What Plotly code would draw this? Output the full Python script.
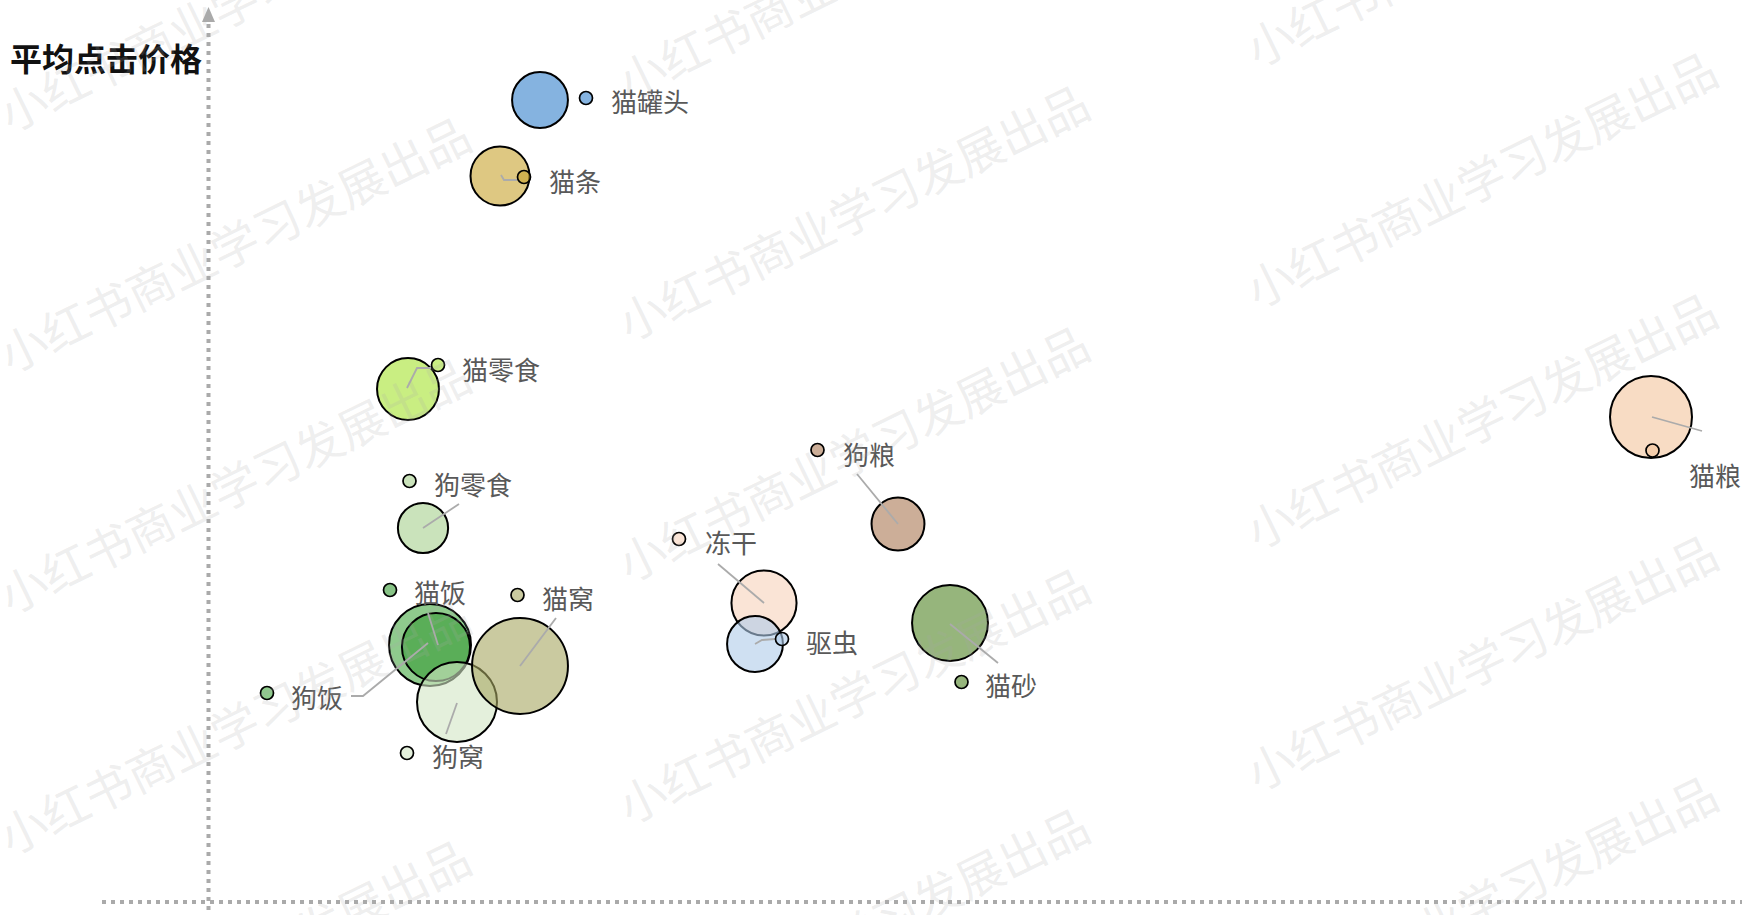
import plotly.graph_objects as go

# ---------------- data ----------------
categories = ["猫罐头", "猫条", "猫零食", "狗零食", "狗饭", "猫饭", "狗窝", "猫窝",
              "狗粮", "冻干", "驱虫", "猫砂", "猫粮"]
x_values = [3.32, 2.92, 2.00, 2.15, 2.22, 2.28, 2.49, 3.12, 6.90, 5.56, 5.47, 7.42, 14.43]
avg_click_price = [8.02, 7.26, 5.13, 3.74, 2.57, 2.55, 2.00, 2.36, 3.78, 2.99, 2.58, 2.79, 4.85]
bubble_values = [7.8, 8.7, 9.6, 6.3, 16.8, 11.6, 16.0, 23.0, 7.0, 10.6, 7.8, 14.4, 16.8]
y_title = "平均点击价格"
watermark_text = "小红书商业学习发展出品"

# ---------------- styles ----------------
ALPHA = 0.6
seen_colors = {  # apparent colour on white
    "猫罐头": (133, 179, 224), "猫条": (222, 200, 130), "猫零食": (201, 238, 130),
    "狗零食": (202, 227, 187), "狗饭": (143, 203, 141), "猫饭": (135, 195, 134),
    "狗窝": (228, 240, 220), "猫窝": (202, 202, 160), "狗粮": (204, 174, 152),
    "冻干": (250, 228, 214), "驱虫": (207, 224, 242), "猫砂": (150, 181, 124),
    "猫粮": (248, 220, 196),
}


def rgba(c):
    b = [max(0, min(255, round((v - (1 - ALPHA) * 255) / ALPHA))) for v in c]
    return f"rgba({b[0]},{b[1]},{b[2]},{ALPHA})"


colors = [rgba(seen_colors[c]) for c in categories]

# label layout: pixel offsets from bubble centre (dot, text, connector path)
label_layout = {
    "猫罐头": dict(dot=(46, -2), text=(69, 0), line=[]),
    "猫条": dict(dot=(24, 1), text=(47, 4), line=[(1, -1), (4, 4), (17, 4)]),
    "猫零食": dict(dot=(30, -24), text=(52, -21), line=[(-1, -1), (9, -21), (23, -21)]),
    "狗零食": dict(dot=(-13.5, -47), text=(9, -45), line=[(0, 0), (36, -24)]),
    "猫饭": dict(dot=(-46, -57), text=(-24, -56), line=[(2, -2), (-8, -34)]),
    "狗饭": dict(dot=(-163, 48), text=(-141, 51), line=[(-2, -2), (-67, 51), (-79, 51)]),
    "狗窝": dict(dot=(-50, 51), text=(-27, 53), line=[(0, 1), (-11, 32)]),
    "猫窝": dict(dot=(-2.5, -71), text=(20, -69), line=[(0, 0), (36, -48)]),
    "狗粮": dict(dot=(-80.5, -74), text=(-57.5, -70.5), line=[(0, 0), (-41, -50)]),
    "冻干": dict(dot=(-85, -64), text=(-61.5, -62), line=[(0, 0), (-46, -39)]),
    "驱虫": dict(dot=(27, -5), text=(49, -2.5), line=[(0, 0), (7, -4), (20, -5)]),
    "猫砂": dict(dot=(11.5, 59), text=(32.5, 61), line=[(0, 1), (48, 40)]),
    "猫粮": dict(dot=(1.5, 33.5), text=(36, 57.5), line=[(1, 0), (51, 14)]),
}

W, H = 1742, 915
X0, X1 = -2.08, 15.34
Y0, Y1 = -0.13, 9.02
PX = W / (X1 - X0)
PY = H / (Y1 - Y0)


def px_x(p):
    return X0 + p / PX


def px_y(q):
    return Y1 - q / PY


def shift(x, y, d):
    return x + d[0] / PX, y - d[1] / PY


FONT = "Noto Sans CJK SC, Noto Sans, sans-serif"

fig = go.Figure()

# bubbles
fig.add_trace(go.Scatter(
    x=x_values, y=avg_click_price, mode="markers",
    marker=dict(size=bubble_values, sizemode="area", sizeref=0.005, opacity=1,
                color=colors, line=dict(color="black", width=2)),
    text=categories, hoverinfo="text", showlegend=False,
))

# connectors
lx, ly = [], []
for c, x, y in zip(categories, x_values, avg_click_price):
    pts = label_layout[c]["line"]
    if not pts:
        continue
    for d in pts:
        sx, sy = shift(x, y, d)
        lx.append(sx)
        ly.append(sy)
    lx.append(None)
    ly.append(None)
fig.add_trace(go.Scatter(x=lx, y=ly, mode="lines",
                         line=dict(color="#ABABAB", width=1.8),
                         hoverinfo="skip", showlegend=False))

# label dots
dx, dy = [], []
for c, x, y in zip(categories, x_values, avg_click_price):
    sx, sy = shift(x, y, label_layout[c]["dot"])
    dx.append(sx)
    dy.append(sy)
fig.add_trace(go.Scatter(x=dx, y=dy, mode="markers",
                         marker=dict(size=13, color=colors, opacity=1,
                                     line=dict(color="black", width=1.7)),
                         hoverinfo="skip", showlegend=False))

annotations = []
for c, x, y in zip(categories, x_values, avg_click_price):
    tx, ty = shift(x, y, label_layout[c]["text"])
    annotations.append(dict(x=tx, y=ty, xref="x", yref="y", text=c,
                            showarrow=False, xanchor="left", yanchor="middle",
                            font=dict(family=FONT, size=26, color="#595959")))

# y axis title
annotations.append(dict(x=8 / W, y=1 - 57 / H, xref="paper", yref="paper",
                        text=f"<b>{y_title}</b>", showarrow=False,
                        xanchor="left", yanchor="middle",
                        font=dict(family=FONT, size=32, color="#111111")))

# watermarks
wm_cols = [(233, [1, 242, 483, 724, 965]),
           (852, [-30, 211, 452, 693, 934]),
           (1480, [-63, 178, 419, 660, 901])]
for cx, ys in wm_cols:
    for cy in ys:
        annotations.append(dict(x=cx / W, y=1 - cy / H, xref="paper", yref="paper",
                                text=watermark_text, showarrow=False, textangle=-26,
                                xanchor="center", yanchor="middle",
                                font=dict(family=FONT, size=47,
                                          color="rgba(170,170,170,0.2)")))

shapes = [
    # y axis
    dict(type="line", x0=px_x(208.5), x1=px_x(208.5), y0=px_y(24), y1=px_y(915),
         line=dict(color="#AAAAAA", width=4, dash="4px,5px")),
    # x axis
    dict(type="line", x0=px_x(102), x1=px_x(1742), y0=px_y(902), y1=px_y(902),
         line=dict(color="#AAAAAA", width=4, dash="4px,5px")),
    # arrow head
    dict(type="path",
         path=f"M {px_x(208.5)} {px_y(7)} L {px_x(202)} {px_y(22)} L {px_x(215)} {px_y(22)} Z",
         fillcolor="#AAAAAA", line=dict(width=0)),
]

fig.update_layout(
    width=W, height=H, margin=dict(l=0, r=0, t=0, b=0),
    paper_bgcolor="white", plot_bgcolor="white",
    xaxis=dict(range=[X0, X1], visible=False, fixedrange=True),
    yaxis=dict(range=[Y0, Y1], visible=False, fixedrange=True),
    annotations=annotations, shapes=shapes, showlegend=False,
    font=dict(family=FONT),
)

fig.write_html("out.html",
               config=dict(displayModeBar=False),
               post_script="document.body.style.margin='0';document.body.style.overflow='hidden';")
